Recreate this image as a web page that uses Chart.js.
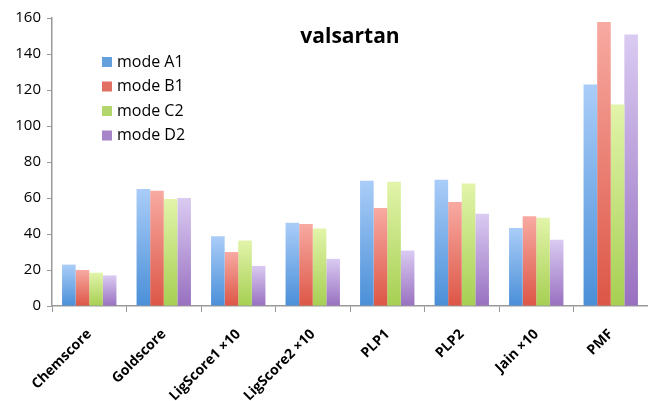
<!DOCTYPE html>
<html>
<head>
<meta charset="utf-8">
<script src="https://cdn.jsdelivr.net/npm/chart.js@4"></script>
<style>
  html, body { margin: 0; padding: 0; background: #fff; }
  #wrap { width: 648px; height: 401px; }
</style>
</head>
<body>
<div id="wrap"><canvas id="my-chart" width="648" height="401"></canvas></div>
<script>
const chartTitle = 'valsartan';
const scoreNames = ['Chemscore', 'Goldscore', 'LigScore1 ×10', 'LigScore2 ×10', 'PLP1', 'PLP2', 'Jain ×10', 'PMF'];
const modeA1 = [23, 65, 38.8, 46.2, 69.6, 70.2, 43.4, 123];
const modeB1 = [20, 64, 30, 45.5, 54.4, 57.8, 49.8, 157.8];
const modeC2 = [18.5, 59.5, 36.4, 43, 69, 68, 49, 112];
const modeD2 = [17, 60, 22.3, 26.2, 30.8, 51.3, 36.8, 150.8];
const yTicks = [0, 20, 40, 60, 80, 100, 120, 140, 160];

// light top / dark bottom for each series
const seriesColors = [
  ['#aacdf8', '#4a8fd8'],
  ['#f8aaa2', '#dc5646'],
  ['#e2f4aa', '#a6cf52'],
  ['#dacbf2', '#9870c0']
];

function barGradient(idx) {
  return ctx => {
    const chart = ctx.chart;
    if (!chart.chartArea || ctx.parsed === undefined) return seriesColors[idx][1];
    const yScale = chart.scales.y;
    const top = yScale.getPixelForValue(ctx.parsed.y);
    const base = yScale.getPixelForValue(0);
    const g = chart.ctx.createLinearGradient(0, top, 0, base);
    g.addColorStop(0, seriesColors[idx][0]);
    g.addColorStop(1, seriesColors[idx][1]);
    return g;
  };
}

// title + legend drawn inside the plot, like the original
const insidePlot = {
  id: 'insidePlot',
  afterDraw(chart) {
    const c = chart.ctx;
    const area = chart.chartArea;
    c.save();
    c.fillStyle = '#000';
    c.font = 'bold 21px "Open Sans"';
    c.textAlign = 'center';
    c.textBaseline = 'middle';
    c.fillText(chartTitle, (area.left + area.right) / 2, 37);

    c.font = '16px "Open Sans"';
    c.textAlign = 'left';
    chart.data.datasets.forEach((ds, i) => {
      const y = 62 + i * 24.5;
      c.fillStyle = seriesColors[i][1];
      c.globalAlpha = 0.85;
      c.fillRect(102, y - 5, 10, 10);
      c.globalAlpha = 1;
      c.fillStyle = '#000';
      c.fillText(ds.label, 117, y);
    });
    c.restore();
  }
};

const ctx = document.getElementById('my-chart').getContext('2d');
const chart = new Chart(ctx, {
  type: 'bar',
  data: {
    labels: scoreNames,
    datasets: [
      { label: 'mode A1', data: modeA1, backgroundColor: barGradient(0) },
      { label: 'mode B1', data: modeB1, backgroundColor: barGradient(1) },
      { label: 'mode C2', data: modeC2, backgroundColor: barGradient(2) },
      { label: 'mode D2', data: modeD2, backgroundColor: barGradient(3) }
    ]
  },
  options: {
    responsive: false,
    animation: false,
    layout: { padding: { top: 18, right: 0, left: 0, bottom: 0 } },
    datasets: { bar: { categoryPercentage: 0.73, barPercentage: 1 } },
    plugins: {
      legend: { display: false },
      title: { display: false },
      tooltip: { enabled: false }
    },
    scales: {
      x: {
        grid: { drawOnChartArea: false, drawTicks: true, tickLength: 6, color: '#999', offset: true },
        border: { color: '#999', width: 1.5 },
        ticks: {
          color: '#000',
          font: { family: '"Open Sans"', size: 14, weight: 'bold' },
          maxRotation: 45,
          minRotation: 45,
          padding: 14
        },
        afterFit: s => { s.height = 95; }
      },
      y: {
        min: 0,
        max: 160,
        afterBuildTicks: s => { s.ticks = yTicks.map(v => ({ value: v })); },
        grid: { drawOnChartArea: false, drawTicks: true, tickLength: 5, color: '#999' },
        border: { color: '#999', width: 1.5 },
        ticks: {
          color: '#000',
          font: { family: '"Open Sans"', size: 15 },
          padding: 6
        },
        afterFit: s => { s.width = 52; }
      }
    }
  },
  plugins: [insidePlot]
});
</script>
</body>
</html>
